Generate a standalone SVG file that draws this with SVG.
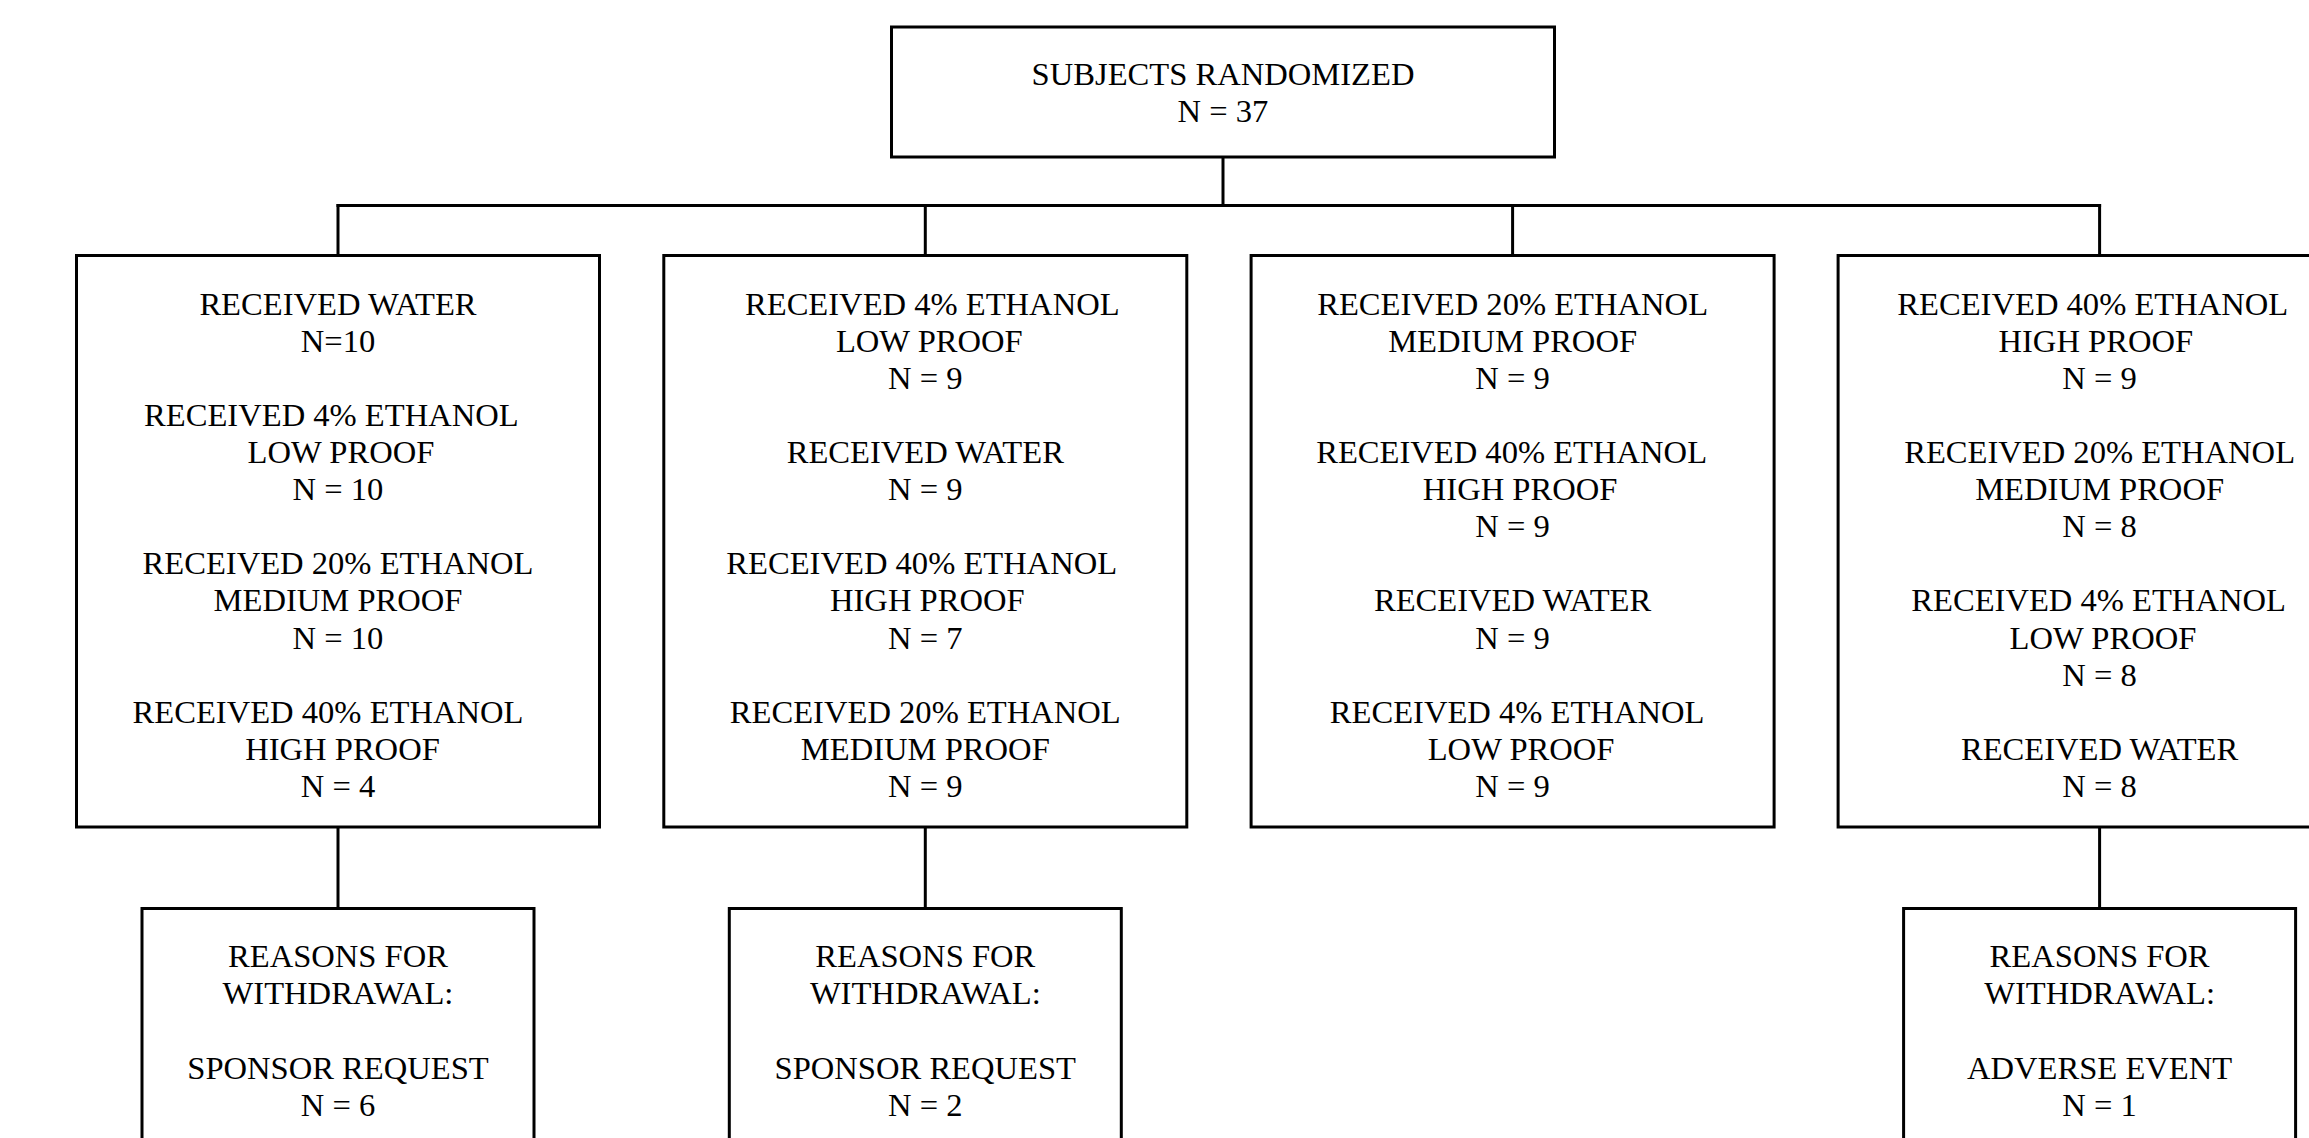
<svg xmlns="http://www.w3.org/2000/svg" width="2309" height="1138" viewBox="0 0 2309 1138">
<style>
.box{fill:#fff;stroke:#000;stroke-width:3}
.con{fill:none;stroke:#000;stroke-width:3}
text{font-family:"Liberation Serif","Times New Roman",serif;font-size:32.6px;fill:#000;text-anchor:middle}
</style>
<rect width="2309" height="1138" fill="#fff"/>
<g id="connectors">
<line class="con" x1="1223" y1="157" x2="1223" y2="205.5"/>
<line class="con" x1="336.5" y1="205.5" x2="2101.1" y2="205.5"/>
<line class="con" x1="338" y1="204" x2="338" y2="255.5"/>
<line class="con" x1="925.3" y1="204" x2="925.3" y2="255.5"/>
<line class="con" x1="1512.6" y1="204" x2="1512.6" y2="255.5"/>
<line class="con" x1="2099.6" y1="204" x2="2099.6" y2="255.5"/>
<line class="con" x1="338" y1="827" x2="338" y2="908.5"/>
<line class="con" x1="925.3" y1="827" x2="925.3" y2="908.5"/>
<line class="con" x1="2099.6" y1="827" x2="2099.6" y2="908.5"/>
</g>
<g id="randomized">
<rect class="box" x="891.5" y="27" width="663" height="130"/>
<text x="1223" y="85">SUBJECTS RANDOMIZED</text>
<text x="1223" y="121.5">N = 37</text>
</g>
<g id="seq1">
<rect class="box" x="76.5" y="255.5" width="523" height="571.5"/>
<text x="338" y="314.6">RECEIVED WATER</text>
<text x="338" y="351.7">N=10</text>
<text x="331.4" y="425.9">RECEIVED 4% ETHANOL</text>
<text x="341" y="463">LOW PROOF</text>
<text x="338" y="500.1">N = 10</text>
<text x="338" y="574.3">RECEIVED 20% ETHANOL</text>
<text x="338" y="611.4">MEDIUM PROOF</text>
<text x="338" y="648.5">N = 10</text>
<text x="328" y="722.7">RECEIVED 40% ETHANOL</text>
<text x="342.5" y="759.8">HIGH PROOF</text>
<text x="338" y="796.9">N = 4</text>
</g>
<g id="seq2">
<rect class="box" x="663.8" y="255.5" width="523" height="571.5"/>
<text x="932.3" y="314.6">RECEIVED 4% ETHANOL</text>
<text x="929.3" y="351.7">LOW PROOF</text>
<text x="925.3" y="388.8">N = 9</text>
<text x="925.3" y="463">RECEIVED WATER</text>
<text x="925.3" y="500.1">N = 9</text>
<text x="921.8" y="574.3">RECEIVED 40% ETHANOL</text>
<text x="927.3" y="611.4">HIGH PROOF</text>
<text x="925.3" y="648.5">N = 7</text>
<text x="925.3" y="722.7">RECEIVED 20% ETHANOL</text>
<text x="925.3" y="759.8">MEDIUM PROOF</text>
<text x="925.3" y="796.9">N = 9</text>
</g>
<g id="seq3">
<rect class="box" x="1251.1" y="255.5" width="523" height="571.5"/>
<text x="1512.6" y="314.6">RECEIVED 20% ETHANOL</text>
<text x="1512.6" y="351.7">MEDIUM PROOF</text>
<text x="1512.6" y="388.8">N = 9</text>
<text x="1511.6" y="463">RECEIVED 40% ETHANOL</text>
<text x="1520.1" y="500.1">HIGH PROOF</text>
<text x="1512.6" y="537.2">N = 9</text>
<text x="1512.6" y="611.4">RECEIVED WATER</text>
<text x="1512.6" y="648.5">N = 9</text>
<text x="1517.1" y="722.7">RECEIVED 4% ETHANOL</text>
<text x="1521.1" y="759.8">LOW PROOF</text>
<text x="1512.6" y="796.9">N = 9</text>
</g>
<g id="seq4">
<rect class="box" x="1838.1" y="255.5" width="523" height="571.5"/>
<text x="2092.8" y="314.6">RECEIVED 40% ETHANOL</text>
<text x="2095.8" y="351.7">HIGH PROOF</text>
<text x="2099.6" y="388.8">N = 9</text>
<text x="2099.6" y="463">RECEIVED 20% ETHANOL</text>
<text x="2099.6" y="500.1">MEDIUM PROOF</text>
<text x="2099.6" y="537.2">N = 8</text>
<text x="2098.6" y="611.4">RECEIVED 4% ETHANOL</text>
<text x="2103" y="648.5">LOW PROOF</text>
<text x="2099.6" y="685.6">N = 8</text>
<text x="2099.6" y="759.8">RECEIVED WATER</text>
<text x="2099.6" y="796.9">N = 8</text>
</g>
<g id="withdrawal1">
<rect class="box" x="142" y="908.5" width="392" height="260"/>
<text x="338" y="966.7">REASONS FOR</text>
<text x="338" y="1004">WITHDRAWAL:</text>
<text x="338" y="1078.6">SPONSOR REQUEST</text>
<text x="338" y="1115.9">N = 6</text>
</g>
<g id="withdrawal2">
<rect class="box" x="729.3" y="908.5" width="392" height="260"/>
<text x="925.3" y="966.7">REASONS FOR</text>
<text x="925.3" y="1004">WITHDRAWAL:</text>
<text x="925.3" y="1078.6">SPONSOR REQUEST</text>
<text x="925.3" y="1115.9">N = 2</text>
</g>
<g id="withdrawal4">
<rect class="box" x="1903.6" y="908.5" width="392" height="260"/>
<text x="2099.6" y="966.7">REASONS FOR</text>
<text x="2099.6" y="1004">WITHDRAWAL:</text>
<text x="2099.6" y="1078.6">ADVERSE EVENT</text>
<text x="2099.6" y="1115.9">N = 1</text>
</g>
</svg>
